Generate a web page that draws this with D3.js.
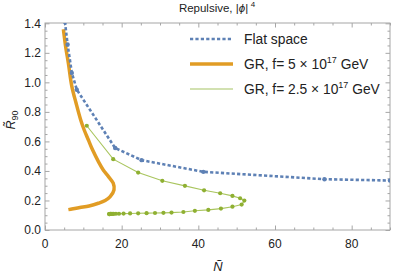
<!DOCTYPE html>
<html><head><meta charset="utf-8">
<script src="https://cdn.jsdelivr.net/npm/d3@7"></script>
<style>body{margin:0;background:#fff}svg{display:block}text{font-family:"Liberation Sans",Arial,sans-serif}</style>
</head><body><svg id="c" width="415" height="275"></svg>
<script>
const flatN = [5.2, 5.9, 7.0, 8.3, 18.3, 25.2, 41.3, 72.9, 90];
const flatR = [1.41, 1.256, 1.064, 0.95, 0.555, 0.473, 0.394, 0.344, 0.335];
const gr5N = [4.8, 5.4, 6.1, 7.0, 8.1, 9.3, 10.2, 11.3, 12.4, 14.0, 15.2, 16.6, 17.8, 18.0, 17.0, 15.7, 13.9, 11.5, 9.1, 7.0, 6.1];
const gr5R = [1.36, 1.24, 1.13, 0.973, 0.86, 0.747, 0.679, 0.611, 0.543, 0.46, 0.407, 0.36, 0.317, 0.272, 0.226, 0.2, 0.181, 0.163, 0.152, 0.142, 0.138];
const gr25N = [10.9, 17.8, 24.3, 30.6, 36.5, 41.5, 45.7, 48.9, 50.9, 52.0, 51.3, 48.9, 45.9, 42.6, 39.1, 36.1, 33.0, 30.9, 28.7, 26.5, 24.3, 22.2, 20.5, 19.3, 18.5, 17.9, 17.5, 17.2, 17.0, 16.9, 16.8, 16.7];
const gr25R = [0.706, 0.48, 0.389, 0.333, 0.299, 0.269, 0.249, 0.231, 0.215, 0.199, 0.172, 0.158, 0.145, 0.136, 0.13, 0.122, 0.118, 0.116, 0.115, 0.114, 0.113, 0.112, 0.111, 0.11, 0.11, 0.109, 0.109, 0.109, 0.109, 0.108, 0.108, 0.108];
const xTicks = [0, 20, 40, 60, 80];
const yTicks = [0.0, 0.2, 0.4, 0.6, 0.8, 1.0, 1.2, 1.4];
const legendLabels = ["Flat space", "GR, f= 5 × 10", "GR, f= 2.5 × 10"];

const svg = d3.select("#c");
const L = 45, R = 390, T = 23, B = 230;
const x = d3.scaleLinear().domain([0, 90]).range([L, R]);
const y = d3.scaleLinear().domain([0, 1.4]).range([B, 23.3]);
const blue = "#5E81B5", orange = "#E19C24", green = "#8FB032";
const frame = "#a6a6a6";

svg.append("defs").append("clipPath").attr("id", "clip")
  .append("rect").attr("x", L).attr("y", T).attr("width", R - L).attr("height", B - T);

const minorX = d3.range(0, 91, 5), minorY = d3.range(0, 1.401, 0.05);
function tickAxis(axisFn, scale, vals, len, pos, isX) {
  const g = svg.append("g").attr("transform", isX ? `translate(0,${pos})` : `translate(${pos},0)`)
    .call(axisFn(scale).tickValues(vals).tickSizeInner(len).tickSizeOuter(0).tickFormat(""));
  g.select(".domain").remove();
  g.selectAll("line").attr("stroke", frame);
  return g;
}
const majX = xTicks, majY = yTicks;
const mnX = minorX.filter(v => !majX.includes(v)), mnY = minorY.filter(v => !majY.some(m => Math.abs(m - v) < 1e-6));
tickAxis(d3.axisTop, x, majX, 4.5, B, true); tickAxis(d3.axisTop, x, mnX, 2.5, B, true);
tickAxis(d3.axisBottom, x, majX, 4.5, T, true); tickAxis(d3.axisBottom, x, mnX, 2.5, T, true);
tickAxis(d3.axisRight, y, majY, 4.5, L, false); tickAxis(d3.axisRight, y, mnY, 2.5, L, false);
tickAxis(d3.axisLeft, y, majY, 4.5, R, false); tickAxis(d3.axisLeft, y, mnY, 2.5, R, false);
svg.append("rect").attr("x", L).attr("y", T).attr("width", R - L).attr("height", B - T)
  .attr("fill", "none").attr("stroke", frame).attr("stroke-width", 1);

svg.append("g").selectAll("text").data(xTicks).join("text")
  .attr("x", d => x(d)).attr("y", B + 18).attr("text-anchor", "middle")
  .attr("font-size", 12).attr("fill", "#222").text(d => d);
svg.append("g").selectAll("text").data(yTicks).join("text")
  .attr("x", L - 4).attr("y", d => y(d) + 4.3).attr("text-anchor", "end")
  .attr("font-size", 12).attr("fill", "#222").text(d => d.toFixed(1));

svg.append("text").attr("x", 218).attr("y", 271).attr("text-anchor", "middle")
  .attr("font-size", 13).attr("font-style", "italic").attr("fill", "#222").text("Ñ");
const yl = svg.append("text").attr("transform", "translate(15,120) rotate(-90)")
  .attr("text-anchor", "middle").attr("font-size", 12.5).attr("fill", "#222");
yl.append("tspan").attr("font-style", "italic").text("R\u0303");
yl.append("tspan").attr("font-size", 9).attr("dy", 3).text("90");

const tt = svg.append("text").attr("x", 217).attr("y", 12).attr("text-anchor", "middle")
  .attr("font-size", 11.5).attr("fill", "#222");
tt.append("tspan").text("Repulsive, |");
tt.append("tspan").attr("font-style", "italic").text("ϕ");
tt.append("tspan").text("|");
tt.append("tspan").attr("font-size", 8).attr("dy", -5).attr("dx", 2.5).text("4");

const plot = svg.append("g").attr("clip-path", "url(#clip)");
const line = d3.line().x(d => x(d[0])).y(d => y(d[1]));
const flat = flatN.map((n, i) => [n, flatR[i]]);
const g5 = gr5N.map((n, i) => [n, gr5R[i]]);
const g25 = gr25N.map((n, i) => [n, gr25R[i]]);

plot.append("path").datum(g25).attr("d", line).attr("fill", "none")
  .attr("stroke", "#a9c55e").attr("stroke-width", 1.1);
plot.append("g").selectAll("circle").data(g25).join("circle")
  .attr("cx", d => x(d[0])).attr("cy", d => y(d[1])).attr("r", 2.1).attr("fill", green);
plot.append("path").datum(g5).attr("d", d3.line().curve(d3.curveCatmullRom).x(d => x(d[0])).y(d => y(d[1])))
  .attr("fill", "none").attr("stroke", orange).attr("stroke-width", 3.5).attr("stroke-linejoin", "round");
plot.append("path").datum(flat).attr("d", line).attr("fill", "none")
  .attr("stroke", blue).attr("stroke-width", 2.6).attr("stroke-dasharray", "3.2,2.2");
plot.append("g").selectAll("circle").data(flat).join("circle")
  .attr("cx", d => x(d[0])).attr("cy", d => y(d[1])).attr("r", 2.2).attr("fill", blue);

const lg = svg.append("g");
const legY = [39, 64, 89];
const legStyles = [
  {stroke: blue, w: 2.6, dash: "3.2,2.2"},
  {stroke: orange, w: 3.5, dash: null},
  {stroke: "#c3d797", w: 1.6, dash: null}
];
legendLabels.forEach((lab, i) => {
  lg.append("line").attr("x1", 190).attr("x2", 233).attr("y1", legY[i]).attr("y2", legY[i])
    .attr("stroke", legStyles[i].stroke).attr("stroke-width", legStyles[i].w)
    .attr("stroke-dasharray", legStyles[i].dash);
  const t = lg.append("text").attr("x", 244).attr("y", legY[i] + 4.8)
    .attr("font-size", 13.8).attr("fill", "#222");
  t.append("tspan").text(lab);
  if (i > 0) {
    t.append("tspan").attr("font-size", 9).attr("dy", -6).text("17");
    t.append("tspan").attr("dy", 6).text(" GeV");
  }
});
</script></body></html>
